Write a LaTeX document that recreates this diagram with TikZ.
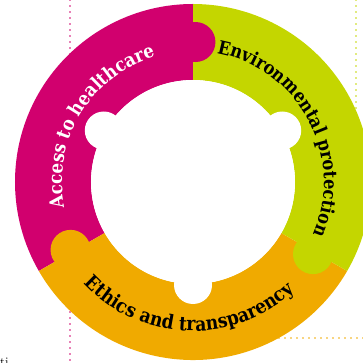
\documentclass[tikz,border=0pt]{standalone}
\usepackage{fontspec}
\newfontfamily\slab[FakeStretch=0.88]{DejaVu Serif}
\usetikzlibrary{decorations.text}
\definecolor{accmag}{RGB}{209,0,110}
\definecolor{envgrn}{RGB}{196,214,0}
\definecolor{ethorn}{RGB}{240,170,0}
\def\rin{102}
\def\rout{178}
\def\ringseg[#1](#2:#3){\fill[#1] (#2:\rout) arc (#2:#3:\rout) -- (#3:\rin) arc (#3:#2:\rin) -- cycle;}
\def\ringtext[#1,#2](#3:#4:#5)#6{\path[decorate, decoration={text along path, text align=center, text color=#1,
    text={|\slab\bfseries\fontsize{#2}{#2}\selectfont|#6}}] (#3:#5) arc (#3:#4:#5);}

\begin{document}
\begin{tikzpicture}[x=1pt, y=1pt,
    dots/.style={line width=1.7pt, line cap=round, dash pattern=on 0pt off 6pt},
    tab/.style={radius=20},
    lobe/.style={fill=white, radius=19}]
		%%%%% START %%%%%
		\useasboundingbox (-193, -181) rectangle (170, 182);
		
		% dotted guides behind the ring
		\draw[dots, color=accmag] (-123, 182) -- (-123, -181);
		\draw[dots, color=envgrn] (163, 182) -- (163, 20);
		\draw[dots, color=ethorn] (80, -156) -- (170, -156);
		
		% ring
		\ringseg[accmag](90:210)
		\ringseg[ethorn](210:330)
		\ringseg[envgrn](-30:90)
		
		% puzzle tabs
		\fill[accmag, tab] (89:140) circle;
		\fill[ethorn, tab] (209:140) circle;
		\fill[envgrn, tab] (-31:140) circle;
		
		% hole
		\fill[white] (0, 0) circle (\rin);
		\foreach \a in {30, 150, 270}
			\fill[lobe] (\a:103) circle;
		
		% labels
		\ringtext[white,19](209:89:131){Access to healthcare}
		\ringtext[black,18.5](88:-32:131){Environmental protection}
		\ringtext[black,19.5](208:328:149){Ethics and transparency}
		
		\node[anchor=north west, inner sep=0, font=\fontsize{13}{13}\selectfont] (cut) at (-193, -176) {ti};
		
		%%%%% END %%%%%
\end{tikzpicture}
\end{document}
